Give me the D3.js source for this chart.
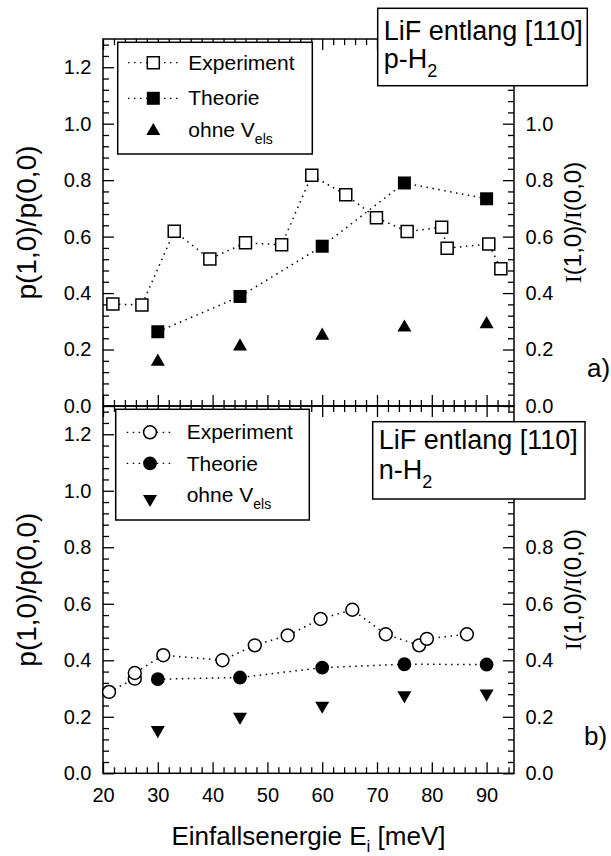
<!DOCTYPE html>
<html>
<head>
<meta charset="utf-8">
<script src="https://cdn.jsdelivr.net/npm/d3@7"></script>
<style>
  body { margin: 0; background: #fff; }
  text { font-family: "Liberation Sans", Arial, Helvetica, sans-serif; fill: #000; }
</style>
</head>
<body>
<svg id="chart" width="611" height="856"></svg>
<script>
// ---- data ----
const xMajorTicks = [20, 30, 40, 50, 60, 70, 80, 90];
const yMajorTicks = [0, 0.2, 0.4, 0.6, 0.8, 1.0, 1.2];
// right-hand labels that are not covered by the sample boxes
const rightLabelsA = [0, 0.2, 0.4, 0.6, 0.8, 1.0];
const rightLabelsB = [0, 0.2, 0.4, 0.6, 0.8];

// calculated energies (Theorie / ohne V_els), both panels
const theoEnergy = [30, 45, 60, 75, 90];

// panel a) p-H2
const expEnergyA   = [21.8, 27.1, 33.0, 39.5, 46.0, 52.6, 58.1, 64.3, 69.9, 75.5, 81.8, 82.8, 90.4, 92.6];
const expRatioA    = [0.361, 0.358, 0.619, 0.521, 0.578, 0.571, 0.817, 0.748, 0.667, 0.618, 0.633, 0.559, 0.574, 0.486];
const theoRatioA   = [0.263, 0.388, 0.566, 0.790, 0.734];
const noVelsRatioA = [0.157, 0.211, 0.249, 0.278, 0.290];

// panel b) n-H2
const expEnergyB   = [21.1, 25.8, 25.8, 31.0, 41.8, 47.7, 53.7, 59.7, 65.5, 71.6, 77.7, 79.1, 86.4];
const expRatioB    = [0.288, 0.335, 0.355, 0.418, 0.400, 0.453, 0.488, 0.546, 0.579, 0.492, 0.453, 0.476, 0.492];
const theoRatioB   = [0.333, 0.339, 0.374, 0.386, 0.385];
const noVelsRatioB = [0.153, 0.200, 0.239, 0.276, 0.282];

const legendLabels = ["Experiment", "Theorie", "ohne V"];

// ---- layout ----
const svg = d3.select("#chart");
const FONT = "Liberation Sans, Arial, Helvetica, sans-serif";
const x = d3.scaleLinear().domain([20, 95]).range([103, 514]);
const yA = d3.scaleLinear().domain([0, 1.3]).range([406, 39]);
const yB = d3.scaleLinear().domain([0, 1.3]).range([773.3, 406]);

const xMinor = d3.range(20, 95, 2).filter(v => v % 10 !== 0);
const yMinor = d3.range(1, 33).filter(i => i % 5 !== 0).map(i => i * 0.04);

function styleAxis(sel) {
  sel.attr("font-family", FONT).attr("font-size", 20);
  sel.select(".domain").remove();
  sel.selectAll("line").attr("stroke", "#000").attr("stroke-width", 1.3);
  sel.selectAll("text").attr("fill", "#000");
}

// ticks point into the plot; optional labels via a format function
function addAxis(g, maker, scale, tx, ty, values, len, fmt, pad) {
  const a = maker(scale).tickValues(values).tickSize(-len).tickPadding(pad || 11.5);
  a.tickFormat(fmt || (() => ""));
  const sel = g.append("g").attr("transform", `translate(${tx},${ty})`).call(a);
  styleAxis(sel);
  if (!fmt) sel.selectAll("text").remove();
  return sel;
}

const fmtY = d3.format(".1f");
const fmtX = d3.format("d");

function drawFrame(y, showXLabels, rightLabels) {
  const g = svg.append("g");
  const [yb, yt] = y.range();
  const [xl, xr] = x.range();
  // left and right y axes
  addAxis(g, d3.axisLeft, y, xl, 0, yMajorTicks, 11, fmtY);
  addAxis(g, d3.axisLeft, y, xl, 0, yMinor, 6, null);
  const ra = addAxis(g, d3.axisRight, y, xr, 0, yMajorTicks, 11, fmtY);
  ra.selectAll(".tick").filter(d => !rightLabels.some(v => Math.abs(v - d) < 1e-9))
    .select("text").remove();
  addAxis(g, d3.axisRight, y, xr, 0, yMinor, 6, null);
  // top and bottom x axes
  addAxis(g, d3.axisTop, x, 0, yt, xMajorTicks, 11, null);
  addAxis(g, d3.axisTop, x, 0, yt, xMinor, 6, null);
  addAxis(g, d3.axisBottom, x, 0, yb, xMajorTicks, 11, showXLabels ? fmtX : null, 15);
  addAxis(g, d3.axisBottom, x, 0, yb, xMinor, 6, null);
  g.append("rect")
    .attr("x", xl).attr("y", yt).attr("width", xr - xl).attr("height", yb - yt)
    .attr("fill", "none").attr("stroke", "#000").attr("stroke-width", 1.5);
}

const dotted = { stroke: "#000", width: 1.5, dash: "1.5 4.5" };

function dottedLine(xs, ys, y) {
  const line = d3.line().x(d => x(d[0])).y(d => y(d[1]));
  svg.append("path")
    .attr("d", line(xs.map((v, i) => [v, ys[i]])))
    .attr("fill", "none").attr("stroke", dotted.stroke)
    .attr("stroke-width", dotted.width).attr("stroke-dasharray", dotted.dash);
}

const shapes = {
  openSquare:   { type: d3.symbolSquare,   size: 144, fill: "#fff", rot: 0 },
  filledSquare: { type: d3.symbolSquare,   size: 169, fill: "#000", rot: 0 },
  openCircle:   { type: d3.symbolCircle,   size: 130, fill: "#fff", rot: 0 },
  filledCircle: { type: d3.symbolCircle,   size: 150, fill: "#000", rot: 0 },
  upTriangle:   { type: d3.symbolTriangle, size: 85,  fill: "#000", rot: 0 },
  downTriangle: { type: d3.symbolTriangle, size: 85,  fill: "#000", rot: 180 }
};

function marker(g, shape, px, py) {
  const s = shapes[shape];
  g.append("path")
    .attr("d", d3.symbol().type(s.type).size(s.size)())
    .attr("transform", `translate(${px},${py}) rotate(${s.rot})`)
    .attr("fill", s.fill)
    .attr("stroke", "#000")
    .attr("stroke-width", s.fill === "#fff" ? 1.5 : 0);
}

function markers(xs, ys, y, shape) {
  const g = svg.append("g");
  xs.forEach((v, i) => marker(g, shape, x(v), y(ys[i])));
}

function legend(box, rows, symX, lineX, textX, shapeNames) {
  const g = svg.append("g");
  g.append("rect")
    .attr("x", box[0]).attr("y", box[1]).attr("width", box[2] - box[0]).attr("height", box[3] - box[1])
    .attr("fill", "#fff").attr("stroke", "#000").attr("stroke-width", 1.5);
  rows.forEach((r, i) => {
    if (i < 2) {
      g.append("line")
        .attr("x1", lineX[0]).attr("x2", lineX[1]).attr("y1", r.cy).attr("y2", r.cy)
        .attr("stroke", "#000").attr("stroke-width", 1.3).attr("stroke-dasharray", "1.5 4.5");
    }
    marker(g, shapeNames[i], symX, r.cy);
    const t = g.append("text").attr("x", textX).attr("y", r.base).attr("font-size", 21);
    t.append("tspan").text(legendLabels[i]);
    if (i === 2) {
      t.append("tspan").attr("font-size", 14).attr("dy", 7).text("els");
    }
  });
}

function infoBox(box, line1Base, line2Base, gas) {
  const g = svg.append("g");
  g.append("rect")
    .attr("x", box[0]).attr("y", box[1]).attr("width", box[2] - box[0]).attr("height", box[3] - box[1])
    .attr("fill", "#fff").attr("stroke", "#000").attr("stroke-width", 1.5);
  g.append("text").attr("x", box[0] + 6).attr("y", line1Base).attr("font-size", 27)
    .text("LiF entlang [110]");
  const t = g.append("text").attr("x", box[0] + 6).attr("y", line2Base).attr("font-size", 27);
  t.append("tspan").text(gas + "-H");
  t.append("tspan").attr("font-size", 18).attr("dy", 9).text("2");
}

function yTitles(y) {
  const [yb, yt] = y.range();
  const cy = (yb + yt) / 2;
  svg.append("text")
    .attr("transform", `translate(36,${cy}) rotate(-90)`)
    .attr("text-anchor", "middle").attr("font-size", 28)
    .text("p(1,0)/p(0,0)");
  const r = svg.append("text")
    .attr("transform", `translate(581,${cy}) rotate(-90)`)
    .attr("text-anchor", "middle").attr("font-size", 24);
  r.append("tspan").attr("font-family", "Liberation Serif, Times New Roman, serif").text("I");
  r.append("tspan").text("(1,0)/");
  r.append("tspan").attr("font-family", "Liberation Serif, Times New Roman, serif").text("I");
  r.append("tspan").text("(0,0)");
}

// ---- panel a) ----
drawFrame(yA, false, rightLabelsA);
dottedLine(expEnergyA, expRatioA, yA);
dottedLine(theoEnergy, theoRatioA, yA);
markers(expEnergyA, expRatioA, yA, "openSquare");
markers(theoEnergy, theoRatioA, yA, "filledSquare");
markers(theoEnergy, noVelsRatioA, yA, "upTriangle");

// ---- panel b) ----
drawFrame(yB, true, rightLabelsB);
dottedLine(expEnergyB, expRatioB, yB);
dottedLine(theoEnergy, theoRatioB, yB);
markers(expEnergyB, expRatioB, yB, "openCircle");
markers(theoEnergy, theoRatioB, yB, "filledCircle");
markers(theoEnergy, noVelsRatioB, yB, "downTriangle");

// legends and labels
legend([117.7, 42.3, 312.3, 154],
  [{ cy: 62.7, base: 70 }, { cy: 98.3, base: 105 }, { cy: 131, base: 136.7 }],
  153.3, [128, 178], 188.3, ["openSquare", "filledSquare", "upTriangle"]);
legend([115.7, 409.3, 309.3, 520],
  [{ cy: 432.3, base: 439.3 }, { cy: 463.3, base: 471 }, { cy: 499, base: 501.7 }],
  150, [126.7, 173.3], 186.7, ["openCircle", "filledCircle", "downTriangle"]);

infoBox([377.7, 8.3, 587.3, 85.7], 40, 68, "p");
infoBox([372.7, 421.7, 585, 499], 449, 479, "n");

yTitles(yA);
yTitles(yB);

svg.append("text").attr("x", 587).attr("y", 377).attr("font-size", 26).text("a)");
svg.append("text").attr("x", 584).attr("y", 745).attr("font-size", 26).text("b)");

const xt = svg.append("text")
  .attr("x", (x.range()[0] + x.range()[1]) / 2).attr("y", 845)
  .attr("text-anchor", "middle").attr("font-size", 26);
xt.append("tspan").text("Einfallsenergie E");
xt.append("tspan").attr("font-size", 17).attr("dy", 7).text("i");
xt.append("tspan").attr("dy", -7).text(" [meV]");
</script>
</body>
</html>
